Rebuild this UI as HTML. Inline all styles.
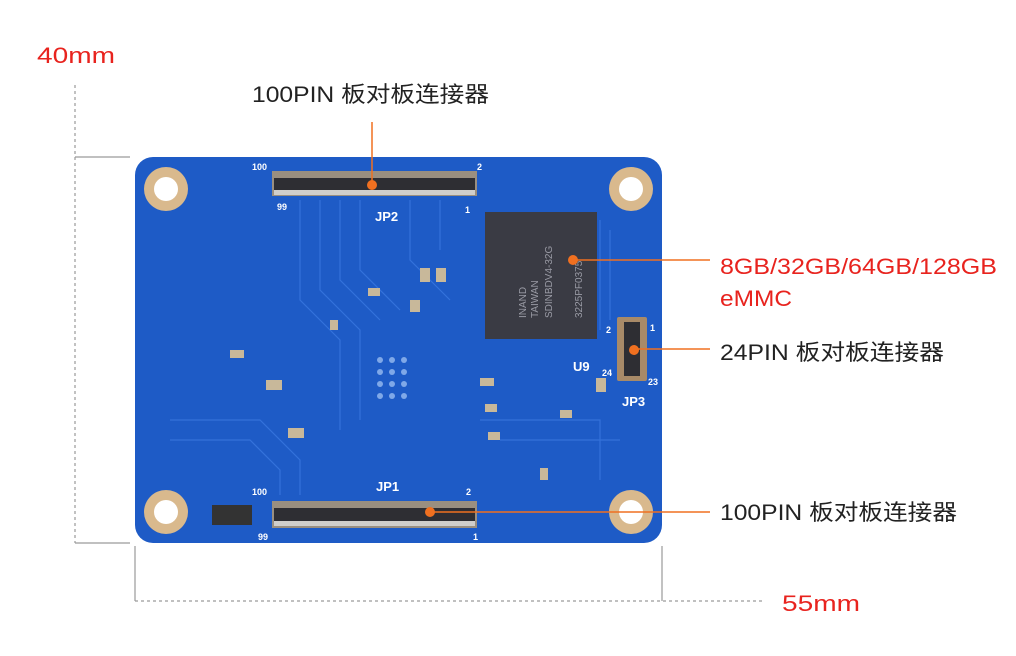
<!DOCTYPE html>
<html><head><meta charset="utf-8"><style>
html,body{margin:0;padding:0;background:#fff;}
body{width:1016px;height:651px;overflow:hidden;}
text{font-family:"Liberation Sans","Noto Sans CJK SC",sans-serif;}
</style></head><body>
<svg width="1016" height="651" viewBox="0 0 1016 651" xmlns="http://www.w3.org/2000/svg">
<g stroke="#9a9a9a" stroke-width="1.2" fill="none">
<line x1="75" y1="85" x2="75" y2="543" stroke-dasharray="3,3"/>
<line x1="75" y1="157" x2="130" y2="157"/>
<line x1="75" y1="543" x2="130" y2="543"/>
<line x1="135" y1="601" x2="765" y2="601" stroke-dasharray="3,3"/>
<line x1="135" y1="546" x2="135" y2="601"/>
<line x1="662" y1="546" x2="662" y2="601"/>
</g>
<rect x="135" y="157" width="527" height="386" rx="18" fill="#1e5bc6"/>
<g stroke="#3a78e0" stroke-width="1.2" fill="none" opacity="0.8">
<path d="M300 200 V300 L340 340 V430"/><path d="M320 200 V290 L360 330 V420"/>
<path d="M340 200 V280 L380 320"/><path d="M360 200 V270 L400 310"/>
<path d="M410 200 V260 L450 300"/><path d="M440 200 V250"/>
<path d="M170 420 H260 L300 460 V495"/><path d="M170 440 H250 L280 470 V495"/>
<path d="M480 420 H600 V480"/><path d="M500 440 H620"/>
<path d="M600 220 V330"/><path d="M610 230 V320"/>
</g>
<g fill="#c8b89a">
<rect x="420" y="268" width="10" height="14"/><rect x="436" y="268" width="10" height="14"/>
<rect x="368" y="288" width="12" height="8"/><rect x="266" y="380" width="16" height="10"/>
<rect x="288" y="428" width="16" height="10"/><rect x="230" y="350" width="14" height="8"/>
<rect x="480" y="378" width="14" height="8"/><rect x="485" y="404" width="12" height="8"/>
<rect x="488" y="432" width="12" height="8"/><rect x="410" y="300" width="10" height="12"/>
<rect x="330" y="320" width="8" height="10"/><rect x="596" y="378" width="10" height="14"/>
<rect x="540" y="468" width="8" height="12"/><rect x="560" y="410" width="12" height="8"/>
</g>
<g fill="#7fa8e8">
<circle cx="380" cy="360" r="3"/><circle cx="392" cy="360" r="3"/><circle cx="404" cy="360" r="3"/>
<circle cx="380" cy="372" r="3"/><circle cx="392" cy="372" r="3"/><circle cx="404" cy="372" r="3"/>
<circle cx="380" cy="384" r="3"/><circle cx="392" cy="384" r="3"/><circle cx="404" cy="384" r="3"/>
<circle cx="380" cy="396" r="3"/><circle cx="392" cy="396" r="3"/><circle cx="404" cy="396" r="3"/>
</g>
<g>
<circle cx="166" cy="189" r="22" fill="#d9b98d"/><circle cx="166" cy="189" r="12" fill="#fff"/>
<circle cx="631" cy="189" r="22" fill="#d9b98d"/><circle cx="631" cy="189" r="12" fill="#fff"/>
<circle cx="166" cy="512" r="22" fill="#d9b98d"/><circle cx="166" cy="512" r="12" fill="#fff"/>
<circle cx="631" cy="512" r="22" fill="#d9b98d"/><circle cx="631" cy="512" r="12" fill="#fff"/>
</g>
<rect x="272" y="171" width="205" height="25" fill="#9a8f80"/>
<rect x="274" y="178" width="201" height="12" fill="#2e2e33"/>
<rect x="274" y="190" width="201" height="5" fill="#ddd" opacity="0.8"/>
<rect x="272" y="501" width="205" height="27" fill="#9a8f80"/>
<rect x="274" y="508" width="201" height="13" fill="#2e2e33"/>
<rect x="274" y="521" width="201" height="5" fill="#ddd" opacity="0.8"/>
<rect x="212" y="505" width="40" height="20" fill="#333"/>
<rect x="485" y="212" width="112" height="127" fill="#3a3b44"/>
<g fill="#9a9ba5" font-size="10">
<text transform="translate(526,318) rotate(-90)">INAND</text>
<text transform="translate(538,318) rotate(-90)">TAIWAN</text>
<text transform="translate(552,318) rotate(-90)">SDINBDV4-32G</text>
<text transform="translate(582,318) rotate(-90)">3225PF0375</text>
</g>
<rect x="617" y="317" width="30" height="64" rx="2" fill="#a88a68"/>
<rect x="624" y="322" width="16" height="54" fill="#2e2e33"/>
<g fill="#fff" font-size="9" font-weight="bold">
<text x="252" y="170">100</text><text x="477" y="170">2</text>
<text x="277" y="210">99</text><text x="465" y="213">1</text>
<text x="375" y="221" font-size="13">JP2</text>
<text x="252" y="495">100</text><text x="466" y="495">2</text>
<text x="258" y="540">99</text><text x="473" y="540">1</text>
<text x="376" y="491" font-size="13">JP1</text>
<text x="573" y="371" font-size="13">U9</text>
<text x="606" y="333">2</text><text x="650" y="331">1</text>
<text x="602" y="376">24</text><text x="648" y="385">23</text>
<text x="622" y="406" font-size="13">JP3</text>
</g>
<g stroke="#f07020" stroke-width="1.5" fill="none">
<line x1="372" y1="122" x2="372" y2="185"/>
<line x1="573" y1="260" x2="710" y2="260"/>
<line x1="632" y1="349" x2="710" y2="349"/>
<line x1="430" y1="512" x2="710" y2="512"/>
</g>
<g fill="#f07020">
<circle cx="372" cy="185" r="5"/><circle cx="573" cy="260" r="5"/>
<circle cx="634" cy="350" r="5"/><circle cx="430" cy="512" r="5"/>
</g>
<g font-size="22">
<text x="37" y="63" fill="#e8231e" textLength="78" lengthAdjust="spacingAndGlyphs">40mm</text>
<text x="782" y="611" fill="#e8231e" textLength="78" lengthAdjust="spacingAndGlyphs">55mm</text>
<text x="252" y="102" fill="#222" textLength="237" lengthAdjust="spacingAndGlyphs">100PIN 板对板连接器</text>
<text x="720" y="274" fill="#e8231e" textLength="277" lengthAdjust="spacingAndGlyphs">8GB/32GB/64GB/128GB</text>
<text x="720" y="306" fill="#e8231e" textLength="72" lengthAdjust="spacingAndGlyphs">eMMC</text>
<text x="720" y="360" fill="#222" textLength="224" lengthAdjust="spacingAndGlyphs">24PIN 板对板连接器</text>
<text x="720" y="520" fill="#222" textLength="237" lengthAdjust="spacingAndGlyphs">100PIN 板对板连接器</text>
</g>
</svg>
</body></html>
